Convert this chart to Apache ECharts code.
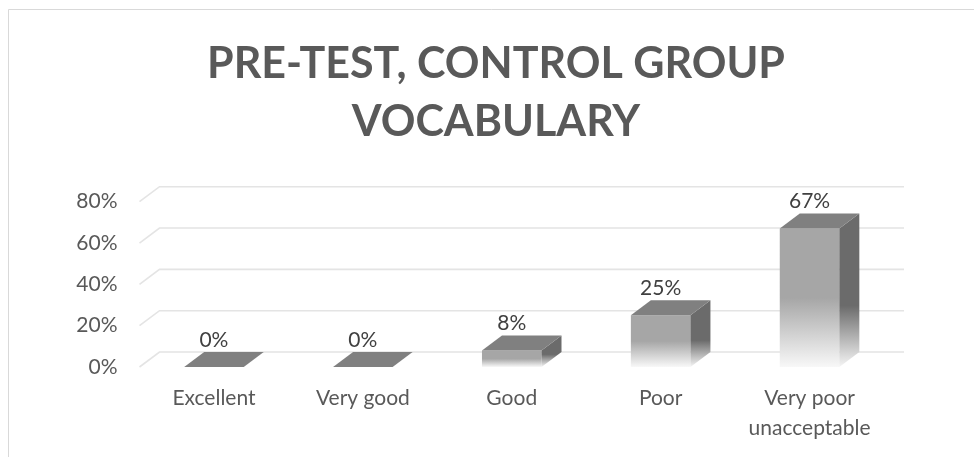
<!DOCTYPE html>
<html>
<head>
<meta charset="utf-8">
<script src="https://cdn.jsdelivr.net/npm/echarts@6/dist/echarts.min.js"></script>
<style>html,body{margin:0;padding:0;background:#fff}#c{width:974px;height:457px}</style>
</head>
<body>
<div id="c"></div>
<script>
const titleText = 'PRE-TEST, CONTROL GROUP\nVOCABULARY';
const categories = ['Excellent', 'Very good', 'Good', 'Poor', 'Very poor\nunacceptable'];
const values = [0, 0, 8, 25, 67];
const yTicks = [0, 20, 40, 60, 80];

const DX = 20, DY = -15;
const FONT = 'Lato';

const chart = echarts.init(document.getElementById('c'));
chart.setOption({
  backgroundColor: '#fff',
  animation: false,
  title: {
    text: titleText,
    left: 491, top: 30, textAlign: 'center',
    textStyle: { fontFamily: FONT, fontWeight: 'bold', fontSize: 43, color: '#595959', lineHeight: 58 }
  },
  graphic: [{
    type: 'rect', silent: true, z: -10,
    shape: { x: 8.5, y: 9.5, width: 1000, height: 1000 },
    style: { fill: 'none', stroke: '#d9d9d9', lineWidth: 1 }
  }],
  grid: { left: 139.5, right: 90, top: 201.7, bottom: 90 },
  xAxis: {
    type: 'category', data: categories,
    axisLine: { show: false }, axisTick: { show: false },
    axisLabel: { interval: 0, color: '#595959', fontFamily: FONT, fontSize: 21, margin: 16, lineHeight: 30 }
  },
  yAxis: {
    type: 'value', min: 0, max: 80, interval: 20,
    splitLine: { show: false }, axisLine: { show: false }, axisTick: { show: false },
    axisLabel: { formatter: '{value}%', color: '#595959', fontFamily: FONT, fontSize: 21, margin: 22 }
  },
  series: [
    {
      type: 'custom', z: 1,
      data: yTicks.map(v => [0, v]),
      encode: { x: 0, y: 1 },
      renderItem: function (params, api) {
        const v = api.value(1);
        const band = api.size([1, 0])[0];
        const p0 = api.coord([0, v]);
        const pl = api.coord([categories.length - 1, v]);
        const left = p0[0] - band / 2;
        const right = pl[0] + band / 2;
        return {
          type: 'polyline',
          shape: { points: [[left, p0[1]], [left + DX, p0[1] + DY], [right + DX, p0[1] + DY]] },
          style: { stroke: '#e4e4e4', lineWidth: 1.6, fill: null }
        };
      }
    },
    {
      type: 'custom', z: 5,
      data: values.map((v, i) => [i, v]),
      encode: { x: 0, y: 1 },
      renderItem: function (params, api) {
        const i = api.value(0), v = api.value(1);
        const band = api.size([1, 0])[0];
        const w = band * 0.4;
        const c0 = api.coord([i, 0]);
        const c1 = api.coord([i, v]);
        const xL = c0[0] - w / 2, xR = c0[0] + w / 2;
        const yB = c0[1], yT = c1[1];
        const children = [];
        if (yB - yT > 0.5) {
          children.push({
            type: 'rect',
            shape: { x: xL, y: yT, width: w, height: yB - yT },
            style: { fill: new echarts.graphic.LinearGradient(0, 0, 0, 1, [
              { offset: 0, color: '#a6a6a6' }, { offset: 0.5, color: '#a6a6a6' }, { offset: 1, color: '#f8f8f8' }
            ]) }
          });
          children.push({
            type: 'polygon',
            shape: { points: [[xR, yT], [xR + DX, yT + DY], [xR + DX, yB + DY], [xR, yB]] },
            style: { fill: new echarts.graphic.LinearGradient(0, 0, 0, 1, [
              { offset: 0, color: '#6b6b6b' }, { offset: 0.6, color: '#6b6b6b' }, { offset: 1, color: '#f5f5f5' }
            ]) }
          });
        }
        children.push({
          type: 'polygon',
          shape: { points: [[xL, yT], [xL + DX, yT + DY], [xR + DX, yT + DY], [xR, yT]] },
          style: { fill: '#808080' }
        });
        children.push({
          type: 'text',
          style: {
            x: c0[0], y: yT + DY - 12, text: v + '%',
            textAlign: 'center', textVerticalAlign: 'middle',
            font: '21px ' + FONT, fill: '#404040'
          }
        });
        return { type: 'group', children: children };
      }
    }
  ]
});
</script>
</body>
</html>
